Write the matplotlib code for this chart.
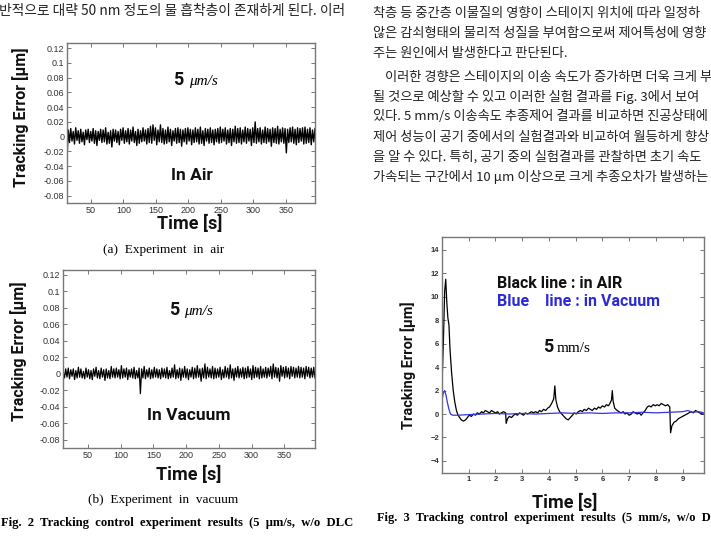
import matplotlib
matplotlib.use('Agg')
import matplotlib.pyplot as plt
import numpy as np

BOLD = 'Roboto'
KR = ['Noto Sans CJK KR', 'DejaVu Sans']
SERIF = 'Liberation Serif'

W, H = 711, 537

# ---- Fig. 2 data (tracking error in nm -> um) ----
air_nm = [
    -30, 9, -8, 11, -6, 7, -10, 12, -5, 8, -9, 10, -7, 6, -11, 9, -4, 10, -8, 7,
    -6, 11, -9, 8, -12, 7, -5, 10, -8, 9, -7, 12, -10, 6, -9, 8, -14, 10, -6, 9,
    -8, 7, -11, 10, -5, 12, -9, 8, -7, 11, -10, 9, -6, 13, -8, 7, -12, 10, -9, 8,
    -7, 12, -6, 9, -10, 11, -8, 14, -9, 16, -5, 12, -11, 9, -7, 16, -8, 11, -10, 9,
    -9, 13, -7, 10, -12, 8, -6, 11, -9, 12, -8, 10, -13, 9, -7, 11, -10, 12, -6, 10,
    -11, 9, -8, 12, -7, 10, -10, 13, -9, 8, -12, 11, -6, 10, -9, 12, -8, 9, -11, 10,
    -7, 11, -9, 13, -8, 10, -6, 12, -10, 9, -8, 11, -12, 10, -7, 14, -9, 11, -8, 12,
    -10, 9, -7, 13, -9, 11, -6, 10, -12, 12, -8, 20, -9, 11, -7, 12, -10, 9, -8, 13,
    -9, 11, -7, 10, -13, 12, -8, 11, -9, 14, -10, 10, -7, 12, -9, 11, -22, 10, -8, 12,
    -7, 13, -9, 10, -11, 12, -8, 11, -6, 12, -10, 13, -9, 10, -8, 12, -11, 9, -7, 11,
]
vac_nm = [
    3, -5, 6, -4, 7, -6, 5, -3, 6, -7, 4, -5, 8, -4, 6, -5, 3, -6, 7, -4,
    5, -6, 4, -7, 6, -3, 8, -5, 4, -6, 7, -4, 5, -8, 6, -5, 4, -6, 9, -4,
    6, -5, 7, -4, 5, -6, 10, -5, 6, -4, 7, -7, 5, -4, 6, -5, 8, -6, 4, -5,
    7, -24, 6, -5, 9, -6, 5, -4, 7, -6, 5, -5, 8, -4, 6, -5, 5, -6, 7, -4,
    6, -5, 8, -6, 4, -5, 7, -4, 11, -6, 5, -5, 7, -8, 6, -4, 9, -5, 6, -7,
    5, -4, 8, -6, 7, -5, 10, -4, 6, -9, 7, -5, 12, -6, 8, -4, 6, -5, 9, -6,
    7, -5, 6, -4, 8, -7, 5, -5, 9, -4, 7, -6, 11, -5, 6, -8, 7, -4, 9, -5,
    6, -4, 8, -6, 7, -5, 9, -4, 6, -7, 10, -5, 8, -4, 7, -6, 9, -5, 6, -4,
    8, -5, 7, -3, 9, -6, 12, -4, 8, -5, 7, -9, 10, -3, 8, -5, 9, -4, 7, -6,
    9, -3, 8, -5, 7, -4, 9, -5, 8, -4, 7, -6, 9, -3, 8, -5, 7, -4, 8, -5,
]
air_t = np.linspace(13, 395, len(air_nm))
vac_t = np.linspace(12, 397, len(vac_nm))
air_um = np.array(air_nm) / 1000.0
vac_um = np.array(vac_nm) / 1000.0

f2_xticks = [50, 100, 150, 200, 250, 300, 350]
f2_yticks = [0.12, 0.1, 0.08, 0.06, 0.04, 0.02, 0, -0.02, -0.04, -0.06, -0.08]
f2_ylabels = ['0.12', '0.1', '0.08', '0.06', '0.04', '0.02', '0',
              '-0.02', '-0.04', '-0.06', '-0.08']

# ---- Fig. 3 data ----
blk_t = [0.00, 0.05, 0.10, 0.14, 0.18, 0.22, 0.26, 0.30, 0.36, 0.42, 0.48, 0.54,
         0.60, 0.66, 0.72, 0.80, 0.88, 0.95, 1.02, 1.10, 1.18, 1.25, 1.32, 1.40,
         1.48, 1.55, 1.62, 1.70, 1.78, 1.85, 1.92, 2.00, 2.08, 2.15, 2.22, 2.30,
         2.38, 2.40, 2.45, 2.52, 2.60, 2.68, 2.75, 2.82, 2.90, 2.98, 3.05, 3.12,
         3.20, 3.28, 3.35, 3.42, 3.50, 3.58, 3.65, 3.72, 3.80, 3.88, 3.95, 4.02,
         4.10, 4.18, 4.22, 4.26, 4.32, 4.40, 4.48, 4.56, 4.64, 4.72, 4.80, 4.88,
         4.95, 5.02, 5.10, 5.18, 5.25, 5.32, 5.40, 5.48, 5.55, 5.62, 5.70, 5.78,
         5.85, 5.92, 6.00, 6.08, 6.15, 6.22, 6.28, 6.34, 6.37, 6.40, 6.46, 6.55,
         6.62, 6.70, 6.78, 6.85, 6.92, 7.00, 7.08, 7.15, 7.22, 7.30, 7.38, 7.45,
         7.52, 7.60, 7.68, 7.75, 7.82, 7.90, 7.98, 8.05, 8.12, 8.20, 8.28, 8.36,
         8.44, 8.52, 8.55, 8.60, 8.68, 8.76, 8.84, 8.92, 9.00, 9.08, 9.16, 9.24,
         9.32, 9.40, 9.48, 9.56, 9.64, 9.72, 9.80]
blk_v = [2.5, 6.0, 10.5, 11.5, 9.5, 8.2, 7.6, 5.5, 3.5, 2.0, 1.0, 0.3,
         -0.1, -0.3, -0.5, -0.6, -0.5, -0.3, -0.1, -0.2, 0.0, -0.1, 0.1, 0.0,
         0.2, 0.1, 0.3, 0.2, 0.1, 0.3, 0.2, 0.1, 0.2, 0.0, 0.1, 0.2,
         0.1, -0.8, -0.4, -0.2, -0.3, -0.1, 0.0, -0.1, 0.1, 0.0, -0.1, 0.1,
         0.0, 0.1, 0.2, 0.1, 0.2, 0.1, 0.3, 0.2, 0.4, 0.3, 0.5, 0.6,
         0.9, 1.3, 2.4, 1.2, 0.6, 0.2, 0.0, -0.2, -0.4, -0.5, -0.3, -0.1,
         0.1, 0.0, 0.2, 0.3, 0.2, 0.4, 0.3, 0.5, 0.4, 0.3, 0.5, 0.4,
         0.6, 0.5, 0.7, 0.6, 0.8, 0.7, 0.9, 1.2, 2.0, 1.1, 0.5, 0.3,
         0.2, 0.1, 0.2, 0.0, 0.1, -0.1, 0.0, 0.2, 0.1, 0.0, 0.1, -0.1,
         0.1, 0.3, 0.6, 0.7, 0.6, 0.8, 0.7, 0.8, 0.7, 0.9, 0.8, 0.7,
         0.8, 0.6, -1.6, -1.0, -0.7, -0.6, -0.4, -0.3, -0.2, -0.1, 0.0, 0.1,
         0.2, 0.1, 0.3, 0.2, 0.1, 0.0, 0.0]
blu_t = [0.00, 0.05, 0.10, 0.15, 0.20, 0.26, 0.32, 0.40, 0.60, 1.00, 1.50, 2.00,
         2.50, 3.00, 3.50, 4.00, 4.50, 5.00, 5.50, 6.00, 6.50, 7.00, 7.50, 8.00,
         8.50, 9.00, 9.20, 9.35, 9.60, 9.80]
blu_v = [1.2, 1.8, 2.0, 1.6, 1.0, 0.4, 0.0, -0.1, -0.1, -0.05, 0.0, 0.05,
         0.0, 0.05, 0.0, 0.05, 0.1, 0.05, 0.1, 0.05, 0.1, 0.1, 0.15, 0.1,
         0.15, 0.2, 0.3, 0.15, 0.2, 0.1]
f3_xticks = [1, 2, 3, 4, 5, 6, 7, 8, 9]
f3_yticks = [14, 12, 10, 8, 6, 4, 2, 0, -2, -4]

# ---- page text (as far as the scan shows it) ----
left_line = '반적으로 대략 50 nm 정도의 물 흡착층이 존재하게 된다. 이러'
right_lines = [
    '착층 등 중간층 이물질의 영향이 스테이지 위치에 따라 일정하',
    '않은 감쇠형태의 물리적 성질을 부여함으로써 제어특성에 영향',
    '주는 원인에서 발생한다고 판단된다.',
    '이러한 경향은 스테이지의 이송 속도가 증가하면 더욱 크게 부',
    '될 것으로 예상할 수 있고 이러한 실험 결과를 Fig. 3에서 보여',
    '있다. 5 mm/s 이송속도 추종제어 결과를 비교하면 진공상태에',
    '제어 성능이 공기 중에서의 실험결과와 비교하여 월등하게 향상',
    '을 알 수 있다. 특히, 공기 중의 실험결과를 관찰하면 초기 속도',
    '가속되는 구간에서 10 μm 이상으로 크게 추종오차가 발생하는',
]
right_y = [13, 33, 53, 78, 97, 117, 137, 157, 177]
right_x = [373, 373, 373, 385, 373, 373, 373, 373, 373]

fig = plt.figure(figsize=(W / 100, H / 100), dpi=100)


def box(x0, y0, x1, y1):
    return fig.add_axes([x0 / W, 1 - y1 / H, (x1 - x0) / W, (y1 - y0) / H])


def txt(x, y, s, **kw):
    fig.text(x / W, 1 - y / H, s, **kw)


def style(ax, bold=False, size=6.5):
    for sp in ax.spines.values():
        sp.set_color('#777777')
        sp.set_linewidth(1.0)
    ax.tick_params(direction='in', length=3, width=0.7, color='#777777',
                   top=True, right=True, pad=2, labelsize=size,
                   labelcolor='#333333')
    for lab in ax.get_xticklabels() + ax.get_yticklabels():
        lab.set_family('Liberation Sans')
        if bold:
            lab.set_weight('bold')


# Fig. 2 (a)
ax1 = box(67, 43, 315, 203)
ax1.plot(air_t, air_um, color='black', lw=1.0)
ax1.set_xlim(13, 395)
ax1.set_ylim(-0.09, 0.127)
ax1.set_xticks(f2_xticks)
ax1.set_yticks(f2_yticks)
ax1.set_yticklabels(f2_ylabels)
style(ax1)

# Fig. 2 (b)
ax2 = box(63, 270, 315, 448)
ax2.plot(vac_t, vac_um, color='black', lw=0.9)
ax2.set_xlim(11.7, 397)
ax2.set_ylim(-0.09, 0.126)
ax2.set_xticks(f2_xticks)
ax2.set_yticks(f2_yticks)
ax2.set_yticklabels(f2_ylabels)
style(ax2)

# Fig. 3
ax3 = box(442, 237, 704, 473)
ax3.plot(blk_t, blk_v, color='black', lw=0.9)
ax3.plot(blu_t, blu_v, color='#3535e0', lw=0.9)
ax3.set_xlim(0, 9.8)
ax3.set_ylim(-5.03, 15.1)
ax3.set_xticks(f3_xticks)
ax3.set_yticks(f3_yticks)
style(ax3, bold=True, size=5.5)

# labels in the charts
lab = dict(family=BOLD, weight='bold', color='#111111')
txt(21, 117, 'Tracking Error [μm]', rotation=90, ha='center', va='center', fontsize=11.5, **lab)
txt(190, 224, 'Time [s]', ha='center', va='center', fontsize=13, **lab)
txt(178, 80, '5', ha='center', va='center', fontsize=13, **lab)
txt(189, 81, 'μm/s', ha='left', va='center', fontsize=11, family=SERIF, style='italic')
txt(192, 176, 'In Air', ha='center', va='center', fontsize=12.5, **lab)
txt(164, 250, '(a)  Experiment  in  air', ha='center', va='center', fontsize=9.5, family=SERIF)

txt(19, 351, 'Tracking Error [μm]', rotation=90, ha='center', va='center', fontsize=11.5, **lab)
txt(189, 475, 'Time [s]', ha='center', va='center', fontsize=13, **lab)
txt(174, 310, '5', ha='center', va='center', fontsize=13, **lab)
txt(184, 311, 'μm/s', ha='left', va='center', fontsize=11, family=SERIF, style='italic')
txt(189, 415, 'In Vacuum', ha='center', va='center', fontsize=12.5, **lab)
txt(163, 500, '(b)  Experiment  in  vacuum', ha='center', va='center', fontsize=9.5, family=SERIF)
txt(1, 523, 'Fig.  2  Tracking  control  experiment  results  (5  μm/s,  w/o  DLC',
    ha='left', va='center', fontsize=9.1, family=SERIF, weight='bold')

txt(408, 365, 'Tracking Error [μm]', rotation=90, ha='center', va='center', fontsize=10.5, **lab)
txt(565, 503, 'Time [s]', ha='center', va='center', fontsize=13, **lab)
txt(497, 283, 'Black line : in AIR', ha='left', va='center', fontsize=11.5, **lab)
txt(497, 302, 'Blue    line : in Vacuum', ha='left', va='center', fontsize=11.5,
    family=BOLD, weight='bold', color='#2a2ad8')
txt(548, 347, '5', ha='center', va='center', fontsize=13, **lab)
txt(557, 348, 'mm/s', ha='left', va='center', fontsize=11, family=SERIF)
txt(377, 518, 'Fig.  3  Tracking  control  experiment  results  (5  mm/s,  w/o  D',
    ha='left', va='center', fontsize=8.9, family=SERIF, weight='bold')

# body text
txt(-1, 11, left_line, ha='left', va='center', fontsize=9.9, family=KR, color='#222222')
for x, y, line in zip(right_x, right_y, right_lines):
    txt(x, y, line, ha='left', va='center', fontsize=9.5, family=KR, color='#222222')

fig.savefig('out.png', dpi=100)
